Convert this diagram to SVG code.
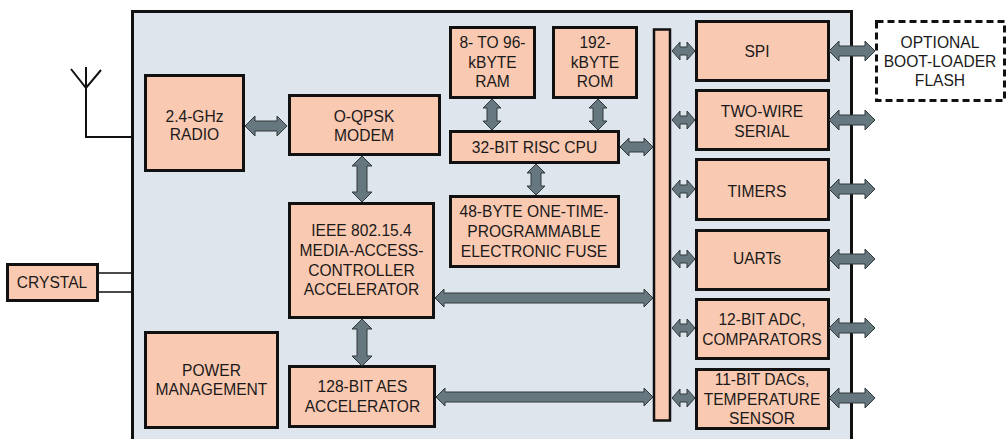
<svg xmlns="http://www.w3.org/2000/svg" width="1006" height="439" viewBox="0 0 1006 439">
<style>
.box{fill:#fac9b1;stroke:#111;stroke-width:3}
.t{font-family:"Liberation Sans",Arial,sans-serif;font-size:15.6px;fill:#1a1a1a;text-anchor:middle}
.ar{fill:#66777f;stroke:#2e383d;stroke-width:1}
.ln{fill:none;stroke:#111;stroke-width:2}
</style>
<rect x="0" y="0" width="1006" height="439" fill="#fff"/>
<g id="chip">
<rect x="132.5" y="11.5" width="719" height="440" fill="#dfe5ec" stroke="#111" stroke-width="3"/>
</g>
<g id="antenna">
<path class="ln" d="M86,67 V137 H132 M71,69 L86,88 L101,70"/>
</g>
<g id="radio"><rect class="box" x="145.5" y="75.5" width="98" height="95"/>
<text class="t" x="194.5" y="122">2.4-GHz</text><text class="t" x="194.5" y="140">RADIO</text></g>
<g id="modem"><rect class="box" x="289.5" y="95.5" width="150" height="59"/>
<text class="t" x="364" y="122">O-QPSK</text><text class="t" x="364" y="141">MODEM</text></g>
<g id="mac"><rect class="box" x="289.5" y="203.5" width="144" height="114"/>
<text class="t" x="361.5" y="236">IEEE 802.15.4</text><text class="t" x="361.5" y="256">MEDIA-ACCESS-</text><text class="t" x="361.5" y="276">CONTROLLER</text><text class="t" x="361.5" y="295">ACCELERATOR</text></g>
<g id="aes"><rect class="box" x="289.5" y="366.5" width="145" height="60"/>
<text class="t" x="362.5" y="392">128-BIT AES</text><text class="t" x="362.5" y="412">ACCELERATOR</text></g>
<g id="power"><rect class="box" x="145.5" y="332.5" width="132" height="95"/>
<text class="t" x="211.5" y="376">POWER</text><text class="t" x="211.5" y="395">MANAGEMENT</text></g>
<g id="crystal"><rect class="box" x="7.5" y="264.5" width="90" height="36"/>
<text class="t" x="52" y="288">CRYSTAL</text></g>
<g id="ram"><rect class="box" x="450.5" y="27.5" width="84" height="70"/>
<text class="t" x="492.5" y="48">8- TO 96-</text><text class="t" x="492.5" y="68">kBYTE</text><text class="t" x="492.5" y="87">RAM</text></g>
<g id="rom"><rect class="box" x="553.5" y="27.5" width="83" height="70"/>
<text class="t" x="595" y="48">192-</text><text class="t" x="595" y="68">kBYTE</text><text class="t" x="595" y="87">ROM</text></g>
<g id="cpu"><rect class="box" x="450.5" y="131.5" width="168" height="31"/>
<text class="t" x="534.5" y="153">32-BIT RISC CPU</text></g>
<g id="fuse"><rect class="box" x="450.5" y="196.5" width="168" height="70"/>
<text class="t" x="534" y="217">48-BYTE ONE-TIME-</text><text class="t" x="534" y="237">PROGRAMMABLE</text><text class="t" x="534" y="257">ELECTRONIC FUSE</text></g>
<g id="bus"><rect x="654" y="29.5" width="16" height="391" fill="#fac9b1" stroke="#111" stroke-width="2.5"/></g>
<g id="spi"><rect class="box" x="696.5" y="21.5" width="132" height="59"/>
<text class="t" x="757" y="57">SPI</text></g>
<g id="twowire"><rect class="box" x="696.5" y="90.5" width="132" height="59"/>
<text class="t" x="762" y="117">TWO-WIRE</text><text class="t" x="762" y="137">SERIAL</text></g>
<g id="timers"><rect class="box" x="696.5" y="159.5" width="132" height="60"/>
<text class="t" x="757" y="197">TIMERS</text></g>
<g id="uarts"><rect class="box" x="696.5" y="230.5" width="132" height="59"/>
<text class="t" x="757" y="264">UARTs</text></g>
<g id="adc"><rect class="box" x="696.5" y="299.5" width="132" height="59"/>
<text class="t" x="762" y="325">12-BIT ADC,</text><text class="t" x="762" y="345">COMPARATORS</text></g>
<g id="dac"><rect class="box" x="696.5" y="369.5" width="132" height="59"/>
<text class="t" x="762" y="385">11-BIT DACs,</text><text class="t" x="762" y="405">TEMPERATURE</text><text class="t" x="762" y="424">SENSOR</text></g>
<g id="flash"><rect x="876.5" y="21.5" width="128" height="79" fill="#fff" stroke="#111" stroke-width="3" stroke-dasharray="7 4"/>
<text class="t" x="940" y="48">OPTIONAL</text><text class="t" x="940" y="67">BOOT-LOADER</text><text class="t" x="940" y="86">FLASH</text></g>
<g id="connectors">
<path fill="none" stroke="#111" stroke-width="1.5" d="M98,273 H132 M98,292 H132"/>
<path class="ar" d="M245,126 L255,116 L255,121 L277,121 L277,116 L287,126 L277,136 L277,131 L255,131 L255,136 Z"/>
<path class="ar" d="M362,156 L372,166 L367,166 L367,192 L372,192 L362,202 L352,192 L357,192 L357,166 L352,166 Z"/>
<path class="ar" d="M362,319 L372,329 L367,329 L367,356 L372,356 L362,366 L352,356 L357,356 L357,329 L352,329 Z"/>
<path class="ar" d="M492,99 L501,108 L497,108 L497,121 L501,121 L492,130 L483,121 L487,121 L487,108 L483,108 Z"/>
<path class="ar" d="M598,99 L607,108 L603,108 L603,121 L607,121 L598,130 L589,121 L593,121 L593,108 L589,108 Z"/>
<path class="ar" d="M536,164 L545,173 L541,173 L541,186 L545,186 L536,195 L527,186 L531,186 L531,173 L527,173 Z"/>
<path class="ar" d="M620,147 L629,138 L629,142 L644,142 L644,138 L653,147 L644,156 L644,152 L629,152 L629,156 Z"/>
<path class="ar" d="M435,298 L444,289 L444,293 L644,293 L644,289 L653,298 L644,307 L644,303 L444,303 L444,307 Z"/>
<path class="ar" d="M436,397 L445,388 L445,392 L644,392 L644,388 L653,397 L644,406 L644,402 L445,402 L445,406 Z"/>
<g id="bus-links">
<path class="ar" d="M672,51 L680,42 L680,47 L687,47 L687,42 L695,51 L687,60 L687,55 L680,55 L680,60 Z"/>
<path class="ar" d="M672,120 L680,111 L680,116 L687,116 L687,111 L695,120 L687,129 L687,124 L680,124 L680,129 Z"/>
<path class="ar" d="M672,189 L680,180 L680,185 L687,185 L687,180 L695,189 L687,198 L687,193 L680,193 L680,198 Z"/>
<path class="ar" d="M672,259 L680,250 L680,255 L687,255 L687,250 L695,259 L687,268 L687,263 L680,263 L680,268 Z"/>
<path class="ar" d="M672,328 L680,319 L680,324 L687,324 L687,319 L695,328 L687,337 L687,332 L680,332 L680,337 Z"/>
<path class="ar" d="M672,398 L680,389 L680,394 L687,394 L687,389 L695,398 L687,407 L687,402 L680,402 L680,407 Z"/>
</g>
<g id="io-links">
<path class="ar" d="M829,51 L839,41 L839,46 L865,46 L865,41 L875,51 L865,61 L865,56 L839,56 L839,61 Z"/>
<path class="ar" d="M829,120 L839,110 L839,115 L865,115 L865,110 L875,120 L865,130 L865,125 L839,125 L839,130 Z"/>
<path class="ar" d="M829,189 L839,179 L839,184 L865,184 L865,179 L875,189 L865,199 L865,194 L839,194 L839,199 Z"/>
<path class="ar" d="M829,259 L839,249 L839,254 L865,254 L865,249 L875,259 L865,269 L865,264 L839,264 L839,269 Z"/>
<path class="ar" d="M829,328 L839,318 L839,323 L865,323 L865,318 L875,328 L865,338 L865,333 L839,333 L839,338 Z"/>
<path class="ar" d="M829,398 L839,388 L839,393 L865,393 L865,388 L875,398 L865,408 L865,403 L839,403 L839,408 Z"/>
</g>
</g>
</svg>
